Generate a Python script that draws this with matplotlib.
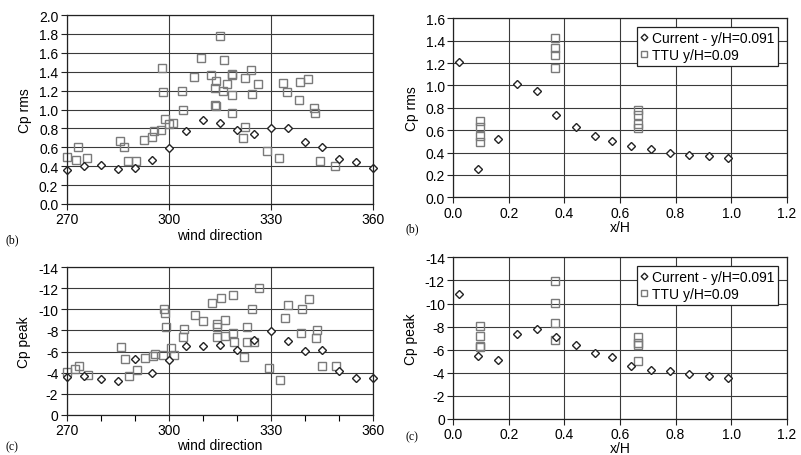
import numpy as np
import matplotlib
matplotlib.use("Agg")
import matplotlib.pyplot as plt
from matplotlib.ticker import MultipleLocator, FormatStrFormatter

plt.rcParams['font.family'] = ['Liberation Sans', 'DejaVu Sans']
plt.rcParams['axes.unicode_minus'] = False

# ---- data: wind direction panels ----
wd_cur = [270, 275, 280, 285, 290, 295, 300, 305, 310, 315, 320, 325, 330, 335, 340, 345, 350, 355, 360]
rms_cur = [0.36, 0.40, 0.41, 0.37, 0.38, 0.47, 0.59, 0.77, 0.89, 0.86, 0.78, 0.74, 0.80, 0.80, 0.66, 0.60, 0.48, 0.44, 0.38]
peak_cur = [-3.55, -3.70, -3.36, -3.17, -5.29, -3.96, -5.19, -6.52, -6.49, -6.62, -6.17, -7.06, -7.92, -6.97, -6.08, -6.17, -4.15, -3.49, -3.52]

wd_ttu_rms = [270.0, 272.6, 273.4, 276.1, 285.7, 286.9, 288.1, 290.4, 292.7, 295.0, 295.8, 297.7,
              298.0, 298.4, 299.0, 300.1, 301.2, 304.0, 304.1, 307.4, 309.6, 312.4, 314.0, 313.5,
              313.6, 313.8, 315.1, 316.2, 316.0, 317.1, 318.6, 318.7, 318.7, 318.6, 322.5, 324.2,
              324.5, 326.3, 322.4, 321.8, 329.0, 332.4, 333.7, 334.7, 338.4, 338.7, 340.9, 342.7,
              342.9, 344.5, 348.8]
rms_ttu = [0.50, 0.47, 0.60, 0.49, 0.67, 0.60, 0.45, 0.45, 0.68, 0.71, 0.77, 0.78,
           1.44, 1.18, 0.90, 0.85, 0.86, 1.20, 0.99, 1.34, 1.54, 1.37, 1.30, 1.23,
           1.05, 1.04, 1.78, 1.52, 1.20, 1.27, 1.38, 1.37, 1.15, 0.96, 1.33, 1.42,
           1.16, 1.27, 0.81, 0.70, 0.56, 0.49, 1.28, 1.18, 1.10, 1.29, 1.32, 1.02,
           0.96, 0.46, 0.40]

wd_ttu_peak = [270.2, 272.4, 273.6, 276.4, 285.9, 287.2, 288.4, 290.8, 293.1, 295.5, 296.1, 298.2,
               298.5, 298.9, 299.3, 300.7, 301.5, 304.5, 304.3, 307.7, 310.0, 312.7, 315.4, 318.8,
               314.1, 314.1, 314.1, 316.5, 316.6, 319.0, 319.1, 322.2, 323.1, 323.0, 324.5, 325.0,
               326.6, 329.5, 332.7, 334.2, 335.2, 338.9, 339.3, 341.4, 343.2, 343.6, 345.2, 349.3]
peak_ttu = [-4.03, -4.34, -4.60, -3.80, -6.40, -5.32, -3.70, -4.27, -5.41, -5.60, -5.76, -5.67,
            -10.04, -9.66, -8.30, -6.36, -5.70, -8.17, -7.38, -9.47, -8.87, -10.58, -11.08, -11.40,
            -8.61, -8.30, -7.38, -9.02, -7.47, -7.76, -6.88, -5.45, -8.33, -6.88, -10.01, -6.88,
            -12.00, -4.43, -3.30, -9.21, -10.42, -7.76, -10.04, -10.99, -7.28, -8.01, -4.60, -4.60]

# ---- data: x/H panels ----
xh_cur = [0.02, 0.09, 0.16, 0.23, 0.30, 0.37, 0.44, 0.51, 0.57, 0.64, 0.71, 0.78, 0.85, 0.92, 0.99]
xh_rms_cur = [1.21, 0.25, 0.52, 1.01, 0.95, 0.74, 0.63, 0.55, 0.50, 0.46, 0.43, 0.40, 0.38, 0.37, 0.35]
xh_peak_cur = [-10.8, -5.49, -5.14, -7.36, -7.82, -7.07, -6.41, -5.69, -5.34, -4.59, -4.21, -4.19, -3.90, -3.70, -3.58]

xh_ttu = [0.095, 0.095, 0.095, 0.095, 0.365, 0.365, 0.365, 0.365, 0.665, 0.665, 0.665, 0.665]
xh_rms_ttu = [0.685, 0.626, 0.551, 0.492, 1.421, 1.332, 1.272, 1.156, 0.778, 0.736, 0.653, 0.617]
xh_peak_ttu = [-8.05, -7.22, -6.29, -6.20, -11.98, -10.02, -8.34, -6.84, -7.13, -6.55, -6.44, -5.05]

W, H = 801, 456
fig = plt.figure(figsize=(W / 100, H / 100), dpi=100)


def box(l, t, r, b):
    return [l / W, 1 - b / H, (r - l) / W, (b - t) / H]


ax1 = fig.add_axes(box(66.7, 16, 372.7, 205))
ax2 = fig.add_axes(box(453.3, 19.3, 786.7, 198.3))
ax3 = fig.add_axes(box(66.7, 268.3, 372.7, 415.7))
ax4 = fig.add_axes(box(453.3, 258.3, 786.7, 420))

dia = dict(ls='none', marker='D', ms=4.0, mfc='white', mec='#222222', mew=1.0)
sq = dict(ls='none', marker='s', ms=5.4, mfc='none', mec='#7a7a7a', mew=1.0)

ax1.plot(wd_ttu_rms, rms_ttu, **sq)
ax1.plot(wd_cur, rms_cur, **dia)
ax3.plot(wd_ttu_peak, peak_ttu, **sq)
ax3.plot(wd_cur, peak_cur, **dia)
ax2.plot(xh_ttu, xh_rms_ttu, label='TTU y/H=0.09', **sq)
ax2.plot(xh_cur, xh_rms_cur, label='Current - y/H=0.091', **dia)
ax4.plot(xh_ttu, xh_peak_ttu, label='TTU y/H=0.09', **sq)
ax4.plot(xh_cur, xh_peak_cur, label='Current - y/H=0.091', **dia)

fs = 10
for ax in (ax1, ax2, ax3, ax4):
    ax.set_axisbelow(True)
    ax.grid(True, which='major', color='#3a3a3a', lw=0.8)
    for s in ax.spines.values():
        s.set_color('#222222')
        s.set_linewidth(0.9)
    ax.tick_params(direction='out', length=4, width=0.8, labelsize=fs, pad=2, color='#222222')
    for m in ax.get_lines():
        m.set_clip_on(False)

for ax in (ax1, ax3):
    ax.set_xlim(270, 360)
    ax.xaxis.set_major_locator(MultipleLocator(30))
    ax.set_xlabel('wind direction', fontsize=fs, labelpad=1)

ax3.xaxis.set_minor_locator(MultipleLocator(10))
ax3.tick_params(which='minor', direction='out', length=4, width=0.8)

ax1.set_ylim(0, 2.0)
ax1.yaxis.set_major_locator(MultipleLocator(0.2))
ax1.yaxis.set_major_formatter(FormatStrFormatter('%.1f'))
ax1.set_ylabel('Cp rms', fontsize=fs, labelpad=5)

ax3.set_ylim(0, -14)
ax3.yaxis.set_major_locator(MultipleLocator(2))
ax3.set_ylabel('Cp peak', fontsize=fs, labelpad=5)

for ax in (ax2, ax4):
    ax.set_xlim(0, 1.2)
    ax.xaxis.set_major_locator(MultipleLocator(0.2))
    ax.xaxis.set_major_formatter(FormatStrFormatter('%.1f'))
    ax.set_xlabel('x/H', fontsize=fs, labelpad=0)
    h, l = ax.get_legend_handles_labels()
    leg = ax.legend(h[::-1], l[::-1], loc='upper right', fontsize=fs, frameon=True, fancybox=False,
                    handlelength=0.5, handletextpad=0.3, borderpad=0.3, labelspacing=0.25,
                    borderaxespad=0.6, framealpha=1, markerscale=0.85)
    leg.get_frame().set_edgecolor('#222222')
    leg.get_frame().set_linewidth(0.9)

ax2.set_ylim(0, 1.6)
ax2.yaxis.set_major_locator(MultipleLocator(0.2))
ax2.yaxis.set_major_formatter(FormatStrFormatter('%.1f'))
ax2.set_ylabel('Cp rms', fontsize=fs, labelpad=5)

ax4.set_ylim(0, -14)
ax4.yaxis.set_major_locator(MultipleLocator(2))
ax4.set_ylabel('Cp peak', fontsize=fs, labelpad=5)

serif = ['Liberation Serif', 'DejaVu Serif']
fig.text(6 / W, 1 - 240 / H, '(b)', family=serif, fontsize=8.5, va='center')
fig.text(6 / W, 1 - 447 / H, '(c)', family=serif, fontsize=8.5, va='center')
fig.text(405 / W, 1 - 229 / H, '(b)', family=serif, fontsize=8.5, va='center')
fig.text(405 / W, 1 - 437 / H, '(c)', family=serif, fontsize=8.5, va='center')

fig.savefig('out.png', dpi=100)
